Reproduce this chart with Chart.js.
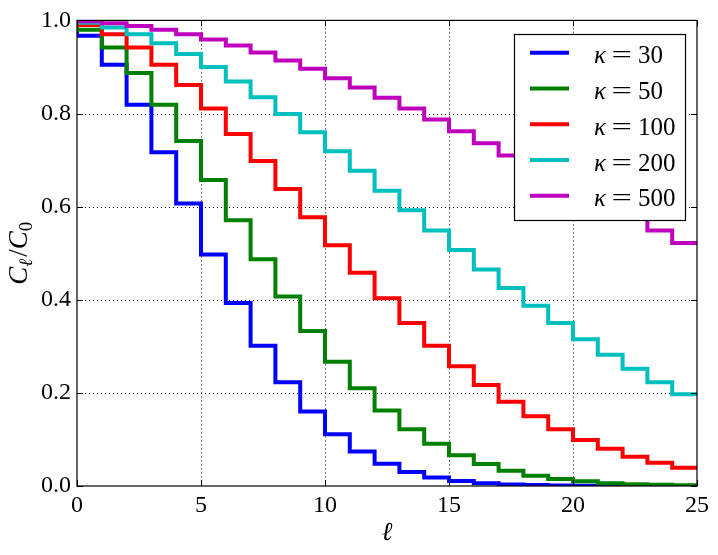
<!DOCTYPE html>
<html><head><meta charset="utf-8">
<script src="https://cdn.jsdelivr.net/npm/chart.js@4.4.0/dist/chart.umd.min.js"></script>
<style>html,body{margin:0;padding:0;background:#fff;overflow:hidden}canvas{display:block}</style>
</head><body>
<canvas id="c" width="718" height="555"></canvas>
<script>
const ells = [0,1,2,3,4,5,6,7,8,9,10,11,12,13,14,15,16,17,18,19,20,21,22,23,24,25];
const kappas = ['30','50','100','200','500'];
const c30  = [1, 0.967, 0.905, 0.819, 0.717, 0.607, 0.497, 0.393, 0.301, 0.223, 0.160, 0.111, 0.074, 0.048, 0.030, 0.018, 0.011, 0.006, 0.003, 0.002, 0.001, 0.0004, 0.0002, 0.0001, 0.0000, 0.0000];
const c50  = [1, 0.980, 0.942, 0.887, 0.819, 0.741, 0.657, 0.571, 0.487, 0.407, 0.333, 0.267, 0.210, 0.162, 0.122, 0.091, 0.066, 0.047, 0.033, 0.022, 0.015, 0.010, 0.006, 0.004, 0.0025, 0.0015];
const c100 = [1, 0.990, 0.970, 0.942, 0.905, 0.861, 0.811, 0.756, 0.698, 0.638, 0.577, 0.517, 0.458, 0.403, 0.350, 0.301, 0.257, 0.217, 0.181, 0.150, 0.122, 0.099, 0.080, 0.063, 0.050, 0.039];
const c200 = [1, 0.995, 0.985, 0.970, 0.951, 0.928, 0.900, 0.869, 0.835, 0.799, 0.760, 0.719, 0.677, 0.634, 0.592, 0.549, 0.507, 0.465, 0.425, 0.387, 0.350, 0.315, 0.282, 0.252, 0.223, 0.197];
const c500 = [1, 0.998, 0.994, 0.988, 0.980, 0.970, 0.959, 0.946, 0.931, 0.914, 0.896, 0.876, 0.856, 0.834, 0.811, 0.787, 0.762, 0.736, 0.710, 0.684, 0.657, 0.630, 0.603, 0.576, 0.549, 0.522];
const xTicks = [0,5,10,15,20,25];
const yTicks = [0.0,0.2,0.4,0.6,0.8,1.0];

const series = [c30, c50, c100, c200, c500];
const colors = ['#0000ff','#008000','#ff0000','#00bfbf','#bf00bf'];
const SERIF = '"Liberation Serif", "DejaVu Serif", serif';

const datasets = series.map((vals, i) => ({
  label: kappas[i],
  data: ells.map((l, j) => ({x: l, y: vals[j]})),
  borderColor: colors[i],
  backgroundColor: colors[i],
  borderWidth: 4,
  pointRadius: 0,
  stepped: 'after',
  fill: false,
  clip: 0,
  borderJoinStyle: 'miter',
  borderCapStyle: 'butt',
  order: series.length - i
}));

const deco = {
  id: 'deco',
  beforeDatasetsDraw(chart) {
    const {ctx, chartArea: a, scales: {x, y}} = chart;
    ctx.save();
    ctx.strokeStyle = '#000';
    ctx.lineWidth = 1;
    ctx.setLineDash([1, 3]);
    ctx.beginPath();
    xTicks.forEach(v => {
      if (v > x.min && v < x.max) {
        const px = Math.round(x.getPixelForValue(v)) + 0.5;
        ctx.moveTo(px, a.top); ctx.lineTo(px, a.bottom);
      }
    });
    yTicks.forEach(v => {
      if (v > y.min && v < y.max) {
        const py = Math.round(y.getPixelForValue(v)) + 0.5;
        ctx.moveTo(a.left, py); ctx.lineTo(a.right, py);
      }
    });
    ctx.stroke();
    ctx.restore();
  },
  afterDatasetsDraw(chart) {
    const {ctx, chartArea: a, scales: {x, y}} = chart;
    ctx.save();
    ctx.strokeStyle = '#000';
    ctx.lineWidth = 1.2;
    ctx.setLineDash([]);
    ctx.strokeRect(a.left, a.top, a.right - a.left, a.bottom - a.top);
    const tl = 6;
    ctx.lineWidth = 1;
    ctx.beginPath();
    xTicks.forEach(v => {
      const px = Math.round(x.getPixelForValue(v)) + 0.5;
      ctx.moveTo(px, a.bottom); ctx.lineTo(px, a.bottom - tl);
      ctx.moveTo(px, a.top); ctx.lineTo(px, a.top + tl);
    });
    yTicks.forEach(v => {
      const py = Math.round(y.getPixelForValue(v)) + 0.5;
      ctx.moveTo(a.left, py); ctx.lineTo(a.left + tl, py);
      ctx.moveTo(a.right, py); ctx.lineTo(a.right - tl, py);
    });
    ctx.stroke();

    // legend
    const lx = 514, ly = 34, lw = 171, lh = 186;
    ctx.fillStyle = '#fff';
    ctx.fillRect(lx, ly, lw, lh);
    ctx.strokeStyle = '#000';
    ctx.lineWidth = 1.2;
    ctx.strokeRect(lx + 0.5, ly + 0.5, lw, lh);
    chart.data.datasets.forEach((ds, i) => {
      const ry = 52.7 + i * 35.75;
      ctx.strokeStyle = ds.borderColor;
      ctx.lineWidth = 4;
      ctx.beginPath();
      ctx.moveTo(530, ry); ctx.lineTo(569, ry);
      ctx.stroke();
      ctx.fillStyle = '#000';
      ctx.textBaseline = 'alphabetic';
      ctx.textAlign = 'left';
      const base = ry + 10.6;
      ctx.font = 'italic 25px ' + SERIF;
      ctx.fillText('\u03ba', 594, base);
      ctx.font = '25px ' + SERIF;
      ctx.save();
      ctx.translate(611.5, base);
      ctx.scale(1.45, 1);
      ctx.fillText('=', 0, 0);
      ctx.restore();
      ctx.fillText(ds.label, 638, base);
    });

    // x title
    ctx.fillStyle = '#000';
    ctx.textAlign = 'center';
    ctx.textBaseline = 'alphabetic';
    ctx.font = 'italic 26px ' + SERIF;
    ctx.fillText('\u2113', (a.left + a.right) / 2, 540);

    // y title: C_ℓ / C_0
    ctx.save();
    ctx.translate(27, (a.top + a.bottom) / 2);
    ctx.rotate(-Math.PI / 2);
    const big = 'italic 27px ' + SERIF;
    const subI = 'italic 19px ' + SERIF;
    const subR = '19px ' + SERIF;
    const parts = [
      {t: 'C', f: big, dy: 0},
      {t: '\u2113', f: subI, dy: 5},
      {t: '/', f: '27px ' + SERIF, dy: 0, pre: 2},
      {t: 'C', f: big, dy: 0, pre: 0},
      {t: '0', f: subR, dy: 5}
    ];
    let total = 0;
    parts.forEach(p => { ctx.font = p.f; p.w = ctx.measureText(p.t).width; total += p.w + (p.pre || 0); });
    let cx = -total / 2;
    ctx.textAlign = 'left';
    parts.forEach(p => {
      cx += (p.pre || 0);
      ctx.font = p.f;
      ctx.fillText(p.t, cx, p.dy);
      cx += p.w;
    });
    ctx.restore();
    ctx.restore();
  }
};

new Chart(document.getElementById('c'), {
  type: 'line',
  data: { datasets },
  options: {
    responsive: false,
    animation: false,
    devicePixelRatio: 1,
    layout: { padding: { left: 0, top: 20, right: 21, bottom: 0 } },
    plugins: { legend: { display: false }, tooltip: { enabled: false } },
    scales: {
      x: {
        type: 'linear', min: 0, max: 25,
        grid: { display: false, drawTicks: false },
        border: { display: false },
        afterBuildTicks: s => { s.ticks = xTicks.map(v => ({value: v})); },
        afterFit: s => { s.height = 69; },
        ticks: { color: '#000', padding: 5, maxRotation: 0, font: { family: SERIF, size: 24 }, callback: v => String(v) }
      },
      y: {
        type: 'linear', min: 0, max: 1,
        grid: { display: false, drawTicks: false },
        border: { display: false },
        afterBuildTicks: s => { s.ticks = yTicks.map(v => ({value: v})); },
        afterFit: s => { s.width = 77; },
        ticks: { color: '#000', padding: 6, font: { family: SERIF, size: 24 }, callback: v => Number(v).toFixed(1) }
      }
    }
  },
  plugins: [deco]
});
</script>
</body></html>
